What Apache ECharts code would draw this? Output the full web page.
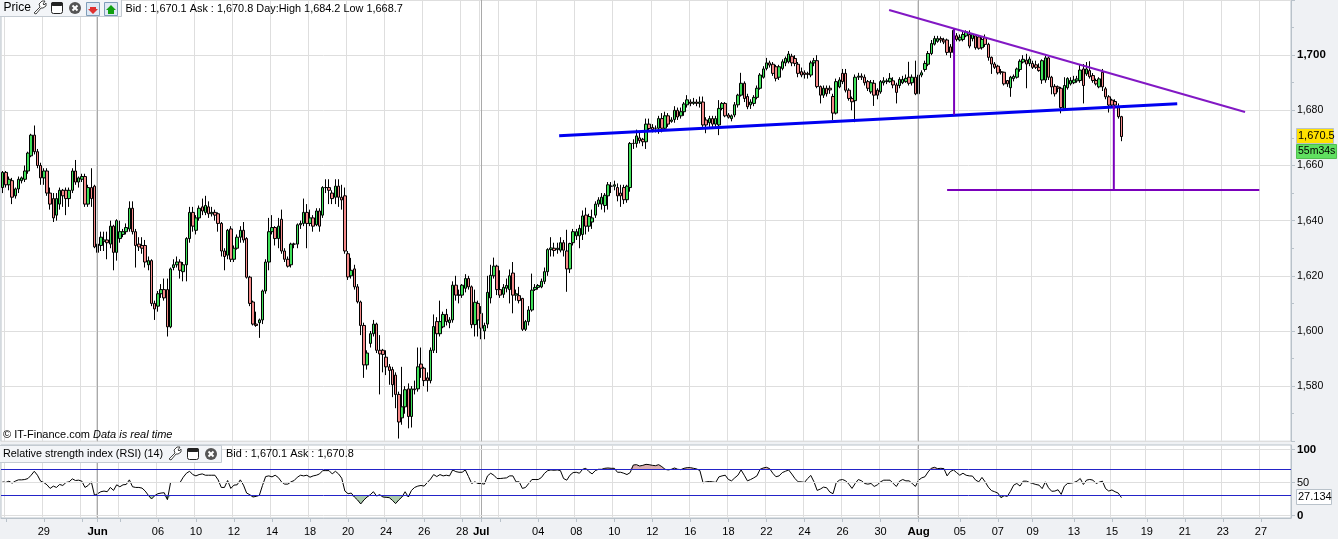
<!DOCTYPE html>
<html><head><meta charset="utf-8">
<script src="https://cdn.jsdelivr.net/npm/echarts@6/dist/echarts.min.js"></script>
<style>html,body{margin:0;padding:0;background:#eff1f4}#c{width:1338px;height:539px}</style>
</head><body><div id="c"></div>
<script>
// Candle rows: [open, close, high, low]
const candlesMay = [
[1652,1657.5,1658,1650],[1657.5,1653,1658,1652],[1653,1655,1656,1651],[1654.5,1648.5,1655.5,1646],[1649,1651.5,1652,1648],[1651.5,1655,1656,1650],[1654.5,1655.5,1656,1653.5],[1655,1658,1660,1654],[1658,1664.5,1665,1657],[1663.5,1671,1671.5,1663],
[1671,1665,1674.5,1664],[1665,1660,1666,1659],[1660,1655.5,1661,1653],[1655.5,1658,1659,1653],[1658,1650,1659,1649],[1650,1646,1652,1644],[1648,1641,1650,1639.5],[1642,1648,1650,1640],[1646,1651,1652,1644],[1651,1649,1651.5,1645],
[1651,1648,1652,1642],[1648,1651,1652,1645],[1651,1658,1659,1650],[1658,1654,1662,1653],[1654,1655.5,1656,1652],[1655,1656,1657,1654],[1656,1646,1657,1645],[1646,1652,1653,1645],[1652,1648,1659,1645],[1652.5,1630.5,1653,1630]];
const candlesJun = [
[1631.5,1628.5,1632,1628],[1631,1634,1636,1629],[1632.5,1633,1636,1629],[1633,1632,1636,1626],[1631.5,1638,1640,1630],[1638,1628.5,1638.5,1622],[1628.5,1640,1640.5,1625.5],[1633.5,1636,1640,1632],[1635,1636,1637,1634],[1636,1637.5,1639,1635],
[1637,1644.5,1647,1636],[1644.5,1636,1647,1635],[1636,1631,1637,1623],[1631.5,1630.5,1634,1629],[1631,1630,1634,1628],[1631,1625,1633,1623],[1624,1625.5,1627,1622],[1625.5,1610,1626,1609],[1610,1608,1611,1604],[1609,1613.5,1614.5,1607],
[1613.5,1615,1617,1612],[1615,1612,1619,1611],[1615,1601.5,1619,1598],[1601.5,1622.5,1623,1601],[1623,1624,1626,1622],[1624,1625,1627,1623],[1625,1622,1626,1619],[1621.5,1624,1625,1618],[1624,1633.5,1634,1618],[1633.5,1643,1645,1632],
[1643,1638,1645,1636],[1636.5,1641,1642,1635],[1641,1644.5,1645.5,1640],[1645,1643.5,1648,1642],[1643,1645.5,1649,1642],[1645,1642.5,1647,1641],[1642.5,1643,1645,1641.5],[1643,1642,1644,1640],[1642.5,1639,1643,1636],[1639,1629,1639.5,1627],
[1629,1627,1630,1622],[1627.5,1636.5,1637,1626],[1637,1626,1638,1625],[1626,1630,1631,1625],[1630,1634,1635,1629.5],[1634,1636.5,1638,1632],[1636.5,1633,1639.5,1632],[1633.5,1619.5,1634,1619],[1619.5,1610,1620,1609],[1610.5,1602.5,1611,1602],
[1602.5,1602,1607,1601.5],[1603,1604,1604.5,1597.5],[1604,1614.5,1615,1602.5],[1614.5,1625,1626,1613.5],[1625,1636,1641,1622],[1636,1637.5,1642,1635],[1637.5,1633.5,1638,1631],[1633.5,1638,1641,1630],[1640.5,1629,1644,1628],[1629,1626,1630,1625],
[1626,1623.5,1627,1623],[1624,1631.5,1632,1623],[1631.5,1631.5,1632,1630],[1631.5,1638.5,1639,1630],[1638.5,1639,1640,1637],[1639,1643,1648,1638],[1643,1639,1646,1630],[1639,1641,1644,1638],[1641,1638,1642,1636],[1638.5,1643.5,1644.5,1638],
[1643.5,1638,1644.5,1636],[1642,1652,1652.5,1641],[1652,1652,1655,1650],[1652,1651,1655,1646],[1650,1648,1651,1646],[1648.5,1652.5,1655,1646],[1652.5,1648.5,1655,1645],[1648.5,1647.5,1653,1644],[1649,1629,1652,1628],
[1628,1619.6,1629,1618.5],[1620,1622,1626.5,1619],[1622.5,1616,1624,1615],[1616,1610.6,1617,1610],[1610.5,1602,1611,1598.5],[1602,1587.7,1603,1583],[1587.7,1592,1593,1586],[1595.5,1599,1600,1594],[1599,1602.5,1604,1598],[1602.5,1593,1603,1592],
[1593,1591.7,1598.5,1577],[1593,1591.5,1593.5,1585],[1590.5,1587,1593,1584],[1587,1585.7,1588,1580.5],[1586,1580.5,1587,1576],[1584,1577,1585,1572],[1577,1567,1578,1561],[1568.5,1572.5,1587,1566],[1572.5,1578.7,1580,1570],[1579,1569,1581,1564.7],
[1569,1579,1580,1565],[1579,1578.7,1582,1577],[1579,1587,1594,1578],[1588,1586.5,1594,1583],[1586.5,1582,1587,1580],[1583,1582,1585,1578],[1582,1593,1594,1581],[1593,1601.6,1606,1592],[1603.4,1599,1605,1592],[1599,1603.4,1611,1598],
[1601.5,1606,1607,1601],[1606,1603.4,1608,1602],[1603,1604,1605,1601],[1604,1616.6,1618,1603],[1616.6,1613,1620,1611],[1613,1613,1615,1610],[1613,1616.6,1617,1612],[1615.5,1619,1620.6,1614],[1619,1616,1620,1615],[1616,1602.3,1616.5,1601],
[1602.3,1610.4,1615,1598],[1610,1604,1611,1598]];
const candlesJul = [
[1606.4,1601,1609,1597],[1600,1602,1603,1597],[1602.5,1614,1620,1601],[1612,1620.2,1624,1610],[1620,1623.5,1626.6,1619],[1623.5,1615,1624,1613],[1615,1613,1622,1612],[1613.3,1615.8,1617,1612],[1615.5,1616.5,1619,1614],[1615,1620,1622.3,1610],
[1621,1613,1625,1606.4],[1613,1613.5,1615,1611],[1612.8,1611,1616,1610],[1611.8,1600.6,1612,1600],[1600.6,1603.4,1604,1600],[1603.4,1607.6,1609,1602],[1607.6,1614.8,1620.8,1607],[1615,1615.8,1617,1614.5],[1615.8,1616.5,1617,1615],[1616,1618,1619,1615.5],
[1618,1621.5,1623,1617],[1621.5,1629.5,1630,1620],[1629.5,1630.1,1634,1627],[1630,1629.2,1632,1627],[1629.5,1630,1632,1628],[1629.3,1632,1634,1628.5],[1632,1629.3,1633,1627],[1629,1622.5,1636.7,1614.2],[1622.5,1631.7,1632,1621],[1632,1636,1637,1631],
[1634.5,1636,1637,1633],[1634.5,1637.2,1638.5,1630],[1635,1641.7,1643.7,1633],[1642,1638,1644.7,1635],[1638,1641.5,1642.5,1636],[1639.5,1641,1644,1637],[1642,1646,1647,1641],[1646,1647.5,1648.5,1645],[1646,1648.5,1650,1644],[1645.5,1649.2,1650,1643],
[1649,1653,1654,1644],[1652.5,1652.5,1654,1650],[1652.5,1653,1654.5,1651],[1652,1649,1653.5,1647],[1650,1649,1653,1645],[1652,1647.6,1653,1646],[1647.6,1652.5,1653,1646.5],[1652,1668,1668.5,1650.5],[1668,1668,1669.5,1666],[1668,1670.7,1673,1666.5],
[1670,1669,1672,1668],[1669.5,1668.6,1670,1667],[1668.6,1675,1677,1666],[1675,1673.4,1677,1672.5],[1673.8,1673,1675,1672],[1673.5,1673.5,1674.5,1672],[1673.5,1677,1678,1671.5],[1677,1673.5,1679,1672],[1673.5,1678,1679.5,1672.5],[1678,1675,1679,1674],
[1676,1676.5,1677.5,1675.5],[1676.7,1680,1681.5,1675.5],[1680,1677.6,1681,1676.5],[1678,1679.5,1681,1677],[1679.5,1682.3,1683,1678],[1682,1683.8,1685.5,1681],[1683,1682.5,1684,1681.5],[1682.5,1683,1684.5,1682],[1683,1682.5,1684,1681.5],[1682.5,1683,1685,1681],
[1683,1674.7,1685,1674],[1676.5,1674.7,1677.5,1671.7],[1675.5,1677,1678,1674],[1677,1675,1678,1674],[1675,1677,1678,1674],[1674.7,1680.7,1683.7,1671],[1680.7,1682.5,1683,1680],[1682.5,1678,1683,1677.5],[1678.3,1677.5,1679,1677],[1677,1678,1678.5,1676],
[1678.3,1682,1683,1677.5],[1682,1685.5,1686,1681],[1685.5,1689.8,1693.6,1685],[1689.8,1684.3,1690.5,1683],[1685,1681.3,1686,1680.4],[1682,1683,1684,1680.5],[1682.5,1684.7,1685.5,1681.5],[1684.7,1688,1689,1684],[1688,1692.8,1693.5,1687.5],[1692,1695,1696,1691.5],
[1695.2,1697.2,1699,1694.5],[1697.2,1696.4,1698,1695.5],[1696.7,1693.4,1697.5,1692.5],[1695.8,1691.6,1696.5,1690.5],[1692,1695.8,1696.5,1691],[1695.2,1697.6,1698.5,1694.5],[1697.2,1698.8,1699.5,1696],[1697.6,1700.4,1701.5,1697],[1699.6,1697.2,1700.5,1696],[1698.8,1697,1700,1696],
[1696.7,1693.4,1697.5,1692],[1694,1692.8,1695.5,1692],[1693.6,1693,1694.5,1691.5],[1693.4,1693,1694,1691.5],[1692.8,1697.2,1698,1692],[1697.2,1698,1699,1696],[1698,1688.6,1700,1688],[1688.6,1685.5,1689,1682.5],[1685.5,1688,1689,1684.5],[1688,1686,1689,1685],
[1688,1687.4,1689,1686],[1685,1679,1686,1676.5],[1679,1690.4,1691.5,1678.5],[1688.5,1691,1692,1688],[1693.4,1690.4,1695,1689.5],[1693.4,1687.3,1695,1686.5],[1687.3,1684.3,1688,1683.5],[1684.3,1683.1,1685,1680],[1683.5,1692,1693,1675.7],[1692,1692.4,1693.6,1691],
[1692.4,1692,1693.4,1691],[1692,1690,1693,1689],[1690.4,1688,1691,1687],[1686.7,1690,1691,1686],[1689.8,1685.5,1691,1681.6],[1687.3,1685.5,1688,1684],[1686.7,1690.4,1691,1686],[1690,1690.7,1692,1689],[1690.4,1690.7,1691.5,1689.5],[1690.4,1691.6,1693.5,1690],
[1690.7,1689.2,1692,1688],[1689.2,1686.5,1690,1682.5],[1689,1691.2,1692,1688],[1690,1691.2,1692.5,1689.5],[1690.4,1691.6,1693,1690],[1692,1689.8,1697.6,1689],[1690,1692,1693,1689],[1692,1686,1698,1685.5]];
const candlesAug = [
[1686,1692.8,1693.5,1685],[1692.8,1693.6,1694.5,1692],[1694.8,1697,1698,1694],[1696.7,1700.6,1701.5,1696],[1700.6,1704.2,1705.5,1700],[1704,1706,1707,1703.5],[1705,1706,1707,1704.5],[1706,1705.5,1706.8,1704.5],[1705.5,1704.8,1706.3,1704],[1705.5,1701,1706,1700],
[1703,1701,1704,1699],[1701,1709,1709.5,1700.5],[1707,1705.7,1708,1705],[1705.5,1706.5,1707.5,1705],[1705.7,1707.5,1708.5,1705],[1707,1708.5,1709,1706.5],[1707.5,1703.3,1709,1702.5],[1706,1707.5,1708,1705],[1707,1702.7,1707.5,1702],[1706.6,1702.5,1707,1702],
[1702.7,1705.7,1706.5,1702],[1706.3,1703.9,1707.5,1703],[1703.9,1699.2,1704.5,1698],[1699.2,1696.8,1699.5,1693.2],[1696.8,1695.6,1697.5,1695],[1696,1693.6,1696.5,1693],[1694,1693.8,1695,1693],[1693.8,1689.6,1694,1689],[1690.8,1689.6,1691,1688.5],[1688.2,1692,1692.5,1684.9],
[1691.5,1692.3,1693,1690.5],[1692,1695,1695.5,1691.5],[1694.8,1697.8,1698.5,1694],[1697.5,1698.5,1700,1697],[1698.2,1696.8,1700.5,1688],[1697,1698.6,1699.5,1696],[1697,1695.6,1698,1695],[1696.5,1695.6,1698,1695],[1695.6,1694.4,1697,1694],[1691,1698,1698.5,1689.6],
[1691,1699,1700,1690],[1699,1692,1699.5,1691],[1692,1688.5,1692.5,1685.8],[1688.7,1686,1689.5,1685],[1688.5,1688,1689,1686.5],[1688,1681,1688.5,1678.9],[1680.7,1689,1692,1680],[1688.2,1691.5,1692,1687.5],[1689.6,1690.8,1692,1689],[1690,1691,1692.5,1689.5],
[1690.7,1691.4,1692.5,1690],[1690.8,1694.6,1696.5,1690],[1695,1689,1696.8,1682.5],[1693.2,1695,1697.5,1692.5],[1694.4,1692.2,1697.8,1691.5],[1692.6,1690.8,1693.5,1690],[1690.8,1689.6,1691.5,1689],[1688.5,1691.4,1692,1688],[1693.8,1688.5,1695,1687],[1687.8,1684.9,1688.5,1684],
[1684.9,1681.9,1685.5,1679.2],[1683.7,1681.9,1684.2,1681],[1683.2,1681.9,1684,1680.5],[1681.3,1677.7,1682.5,1677],[1677.7,1670.5,1678,1668.8]];
const rsiValues = [
51,50,52,49,52,54,54,54.5,56,61,67,61,52,50,46.5,41,44.5,42.5,47,45.5,50,51,55.5,53,53.5,52,42.5,45.5,51,30.5,
33,36,37,36,42.5,38,46.5,43.5,46.5,47,54,43.5,42.5,42.5,41.5,37,30.5,25,30,33,34,34.5,24,50,50,50,50,58,64,67,
62,60,62,63,61,61,61,61,54,42.5,42.5,53,41,46,46.5,54,46,34,31.5,28,29,30.5,45.5,59,60,58.5,61,57.5,51,47.5,
47.5,51,53,58,61,60,61,58,60,61,63,68,68,68,63,67,63,56.5,37,33,34,28,23.5,17.5,23.5,28,31.5,36,29.5,31.5,
28,27.5,27,23,18,23.5,28,36,28,38,42.5,44.5,45.5,44.5,50,55,62,59,62,60,61,60,69,66.5,65.5,65.5,69,59,
48.5,51,48.5,48.5,47.5,60,64,61,56,56,56.5,57,60,60,51,51,41,42.5,48.5,54.5,54.5,54.5,57.5,64,68,69,68.5,69,68,56,
53.5,61,65,65.5,64,70,71.5,66.5,63,68,70,70,71.5,72,71.5,71.5,65.5,65.5,64,62,65,76.5,77,75,76,77.5,77,76,75.5,77,
74,70,69,70,72,70,69.5,71.5,72.5,72.5,71.5,70.5,68,49.5,51,51.5,51,50,58.5,60,61,54.5,52.5,57,61,69,61,52.5,54.5,57,
60,70,72,73,71,64,58.7,60,65,67,69,62.8,56,51,51,50,56,60.7,51,38,40,43,42,35.5,33,49.5,53.5,54.5,52.5,47.5,
41,48.5,54.5,52.5,48.5,47.5,48.5,44,46.5,51,53.5,53.5,53.5,48.5,44,52,54.5,52.5,52.5,48.5,44,53.5,57,58.7,66,71.5,73,71,71.5,71,
60,66.5,69,65,61,64,61,60,59.7,53.6,51,57.7,51,43,37.7,36,34,27,30,29,36.7,46,48.5,44.6,52,52,50,48.5,47,46,
40.7,51,42,36.7,37,39,32,44.4,48.5,49,50,52,56,47,53.6,54.6,53.6,48.5,50.5,52,40.7,37,38.7,36,34,27.1];
// Axis text
const gridSlots = [1,13,25,30,37,49,61,73,85,97,109,121,133,145,151,157,169,181,193,205,217,229,241,253,265,277,289,302,314,325,338,350,361,373,385,397];
const gridLabels = ['','29','','Jun','','06','10','12','14','18','20','24','26','28','Jul','','04','08','10','12','16','18','22','24','26','30','Aug','05','07','09','13','15','19','21','23','27'];
const monthLabels = ['Jun','Jul','Aug'];
const priceTicks = [1580,1600,1620,1640,1660,1680,1700];
const rsiTicks = [0,50,100];
const rsiBands = [30,70];
// Drawn annotations: [slot, price]
const blueTrend = [[175.6,1670.8],[370.6,1682.4]];
const purpleTrend = [[279.7,1716.4],[392,1679.4]];
const purpleDropA = [[300.2,1709.5],[300.2,1678.4]];
const purpleDropB = [[350.6,1681.6],[350.6,1651.1]];
const purpleTarget = [[298,1651.1],[396.5,1651.1]];
const SLOT_COUNT = 407;

const rows = candlesMay.concat(candlesJun, candlesJul, candlesAug);
const slots = Array.from({length:SLOT_COUNT},(_,i)=>'s'+i);
const candleData = rows.map(r=>[r[0],r[1],r[3],r[2]]);
const labelBySlot = {}; gridSlots.forEach((s,i)=>labelBySlot[s]=gridLabels[i]);
const isGrid = i => labelBySlot[i]!==undefined;
const monthSlots = gridSlots.filter(s=>monthLabels.includes(labelBySlot[s]));
const rsiPairs = rsiValues.map((v,i)=>[i,v]);
const rsiHigh = rsiValues.map((v,i)=>[i,Math.max(v,70)]);
const rsiLow = rsiValues.map((v,i)=>[i,Math.min(v,30)]);
const FONT = '"Liberation Sans",Arial,sans-serif';
const GRID='#dedede', EDGE='#b9c2ca', DARK='#a9a9a9';

function fmt(v){return String(v).replace(/(\d)(\d{3})$/,'$1,$2');}
function txt(x,y,s,o){return {type:'text',x:x,y:y,silent:true,z:50,style:Object.assign({text:s,fill:'#000',font:'11px '+FONT,textVerticalAlign:'middle'},o||{})};}
function rct(x,y,w,h,fill,stroke,r){return {type:'rect',silent:true,z:49,shape:{x:x+.5,y:y+.5,width:w,height:h,r:r||0},style:{fill:fill,stroke:stroke||null,lineWidth:1}};}
function wrench(x,y){return {type:'polyline',silent:true,z:50,shape:{points:[[x+1,y+12],[x+7,y+6],[x+6,y+3],[x+9,y],[x+12,y],[x+10,y+3],[x+11,y+4],[x+13,y+2],[x+13,y+5],[x+10,y+7],[x+8,y+7],[x+3,y+13],[x+1,y+12]]},style:{stroke:'#444',fill:'#fff',lineWidth:1}};}
function win(x,y){return [rct(x,y,11,11,'#fff','#222',2),rct(x,y,11,3,'#222','#222',1)];}
function closeBtn(x,y){return [{type:'circle',silent:true,z:49,shape:{cx:x+6,cy:y+6,r:6},style:{fill:'#555'}},
 {type:'polyline',silent:true,z:50,shape:{points:[[x+3.5,y+3.5],[x+8.5,y+8.5]]},style:{stroke:'#fff',lineWidth:2}},
 {type:'polyline',silent:true,z:50,shape:{points:[[x+8.5,y+3.5],[x+3.5,y+8.5]]},style:{stroke:'#fff',lineWidth:2}}];}
function arrowDoc(x,y,c,down){
 const pts = down?[[x+4,y+5],[x+10,y+5],[x+10,y+7],[x+12,y+7],[x+7,y+12],[x+2,y+7],[x+4,y+7]]
                 :[[x+7,y+3],[x+12,y+8],[x+10,y+8],[x+10,y+12],[x+4,y+12],[x+4,y+8],[x+2,y+8]];
 return [rct(x,y,13,13,'#dfe9f5','#7f9db9'),{type:'polygon',silent:true,z:50,shape:{points:pts},style:{fill:c}}];
}
const graphics = [
 rct(-1,-1,122,17,'#f3f5f8','#c3cad1'),
 txt(3.5,8,'Price',{font:'12px '+FONT}),
 wrench(33,1),...win(51,2),...closeBtn(69,2),...arrowDoc(86,2,'#e03030',true),...arrowDoc(104,2,'#10a010',false),
 txt(125.5,8.5,'Bid : 1,670.1 Ask : 1,670.8 Day:High 1,684.2 Low 1,668.7',{font:'10.9px '+FONT}),
 txt(3,435,'© IT-Finance.com',{font:'11px '+FONT}),
 txt(93,435,'Data is real time',{font:'italic 11px '+FONT}),
 rct(-1,445,222,17,'#f3f5f8','#c3cad1'),
 txt(3,454,'Relative strength index (RSI) (14)',{font:'10.8px '+FONT}),
 wrench(168,447),...win(187,448),...closeBtn(205,448),
 txt(226,454,'Bid : 1,670.1 Ask : 1,670.8',{font:'10.9px '+FONT}),
 rct(1296,128,37,15,'#ffe000','#b9c2ca'),
 txt(1298,136,'1,670.5',{font:'11px '+FONT}),
 rct(1296,144,40,14,'#60e060','#50c050'),
 txt(1298,151.5,'55m34s',{font:'10.5px '+FONT}),
 rct(1296,489,35,15,'#fff','#b9c2ca'),
 txt(1298,497,'27.134',{font:'11px '+FONT})
];
function overlay(name,data,color,width){return {name:name,type:'line',xAxisIndex:2,yAxisIndex:0,data:data,showSymbol:false,silent:true,clip:false,z:5,lineStyle:{color:color,width:width},animation:false};}
function xCat(gridIndex,showLabels){return {type:'category',gridIndex:gridIndex,data:slots,boundaryGap:true,
 axisLine:{show:showLabels,onZero:false,lineStyle:{color:EDGE}},
 axisTick:{show:showLabels,alignWithLabel:true,length:4,interval:i=>isGrid(i),lineStyle:{color:EDGE}},
 splitLine:{show:true,interval:i=>isGrid(i),lineStyle:{color:GRID,width:1}},
 axisLabel:{show:showLabels,interval:i=>isGrid(i),margin:8,fontFamily:FONT,fontSize:11,color:'#000',
  formatter:v=>{const l=labelBySlot[+v.slice(1)]||'';return monthLabels.includes(l)?'{b|'+l+'}':l;},
  rich:{b:{fontWeight:'bold',fontFamily:FONT,fontSize:11.5,color:'#000'}}}};}
const option = {
 animation:false,backgroundColor:'#eff1f4',
 grid:[{left:1,top:-1,width:1290,height:442.3,show:true,backgroundColor:'#fff',borderColor:EDGE,borderWidth:1},
       {left:1,top:445,width:1290,height:73,show:true,backgroundColor:'#fff',borderColor:EDGE,borderWidth:1}],
 xAxis:[xCat(0,false),xCat(1,true),{type:'value',gridIndex:0,min:-0.5,max:SLOT_COUNT-0.5,show:false}],
 yAxis:[{type:'value',gridIndex:0,min:1560,max:1720,interval:20,position:'right',
   axisLine:{show:true,onZero:false,lineStyle:{color:EDGE}},axisTick:{show:true,length:4,lineStyle:{color:EDGE}},
   minorTick:{show:true,splitNumber:2,length:3,lineStyle:{color:EDGE}},
   splitLine:{show:true,lineStyle:{color:GRID,width:1}},showMinLabel:false,showMaxLabel:false,
   axisLabel:{margin:6,fontFamily:FONT,fontSize:10.5,color:'#000',
    customValues:priceTicks,
    formatter:v=>v===1700?'{b|'+fmt(v)+'}':fmt(v),rich:{b:{fontWeight:'bold',fontSize:11.5,fontFamily:FONT,color:'#000'}}}},
  {type:'value',gridIndex:1,min:-3.8,max:106.8,position:'right',
   axisLine:{show:true,onZero:false,lineStyle:{color:EDGE}},axisTick:{show:true,length:4,customValues:rsiTicks,lineStyle:{color:EDGE}},
   splitLine:{show:false},
   axisLabel:{margin:6,fontFamily:FONT,fontSize:11,color:'#000',customValues:rsiTicks,
    formatter:v=>v===50?String(v):'{b|'+v+'}',rich:{b:{fontWeight:'bold',fontSize:11.5,fontFamily:FONT,color:'#000'}}}}],
 series:[
  {type:'line',xAxisIndex:0,yAxisIndex:0,data:[],silent:true,z:1,
   markLine:{silent:true,symbol:'none',animation:false,label:{show:false},lineStyle:{color:DARK,width:1,type:'solid'},
    data:monthSlots.map(s=>({xAxis:'s'+s}))}},
  {type:'line',xAxisIndex:1,yAxisIndex:1,data:[],silent:true,z:1,
   markLine:{silent:true,symbol:'none',animation:false,label:{show:false},lineStyle:{color:DARK,width:1,type:'solid'},
    data:monthSlots.map(s=>({xAxis:'s'+s})).concat(rsiTicks.map(v=>({yAxis:v,lineStyle:{color:GRID}})),rsiBands.map(v=>({yAxis:v,lineStyle:{color:'#2323c8'}})))}},
  {name:'Price',type:'candlestick',xAxisIndex:0,yAxisIndex:0,data:candleData,barWidth:3,z:3,silent:true,
   itemStyle:{color:'#3fe05a',color0:'#f58a8a',borderColor:'#000',borderColor0:'#000',borderColorDoji:'#000',borderWidth:1}},
  overlay('Support',blueTrend,'#0000f0',3),
  overlay('Resistance',purpleTrend,'#8218c4',2),
  overlay('Height A',purpleDropA,'#7a00bb',2),
  overlay('Height B',purpleDropB,'#7a00bb',2),
  overlay('Target',purpleTarget,'#7a00bb',2),
  {name:'RSI over',type:'line',xAxisIndex:1,yAxisIndex:1,data:rsiHigh,showSymbol:false,silent:true,z:2,lineStyle:{width:0},areaStyle:{origin:70,color:'#d8aeb0',opacity:1}},
  {name:'RSI under',type:'line',xAxisIndex:1,yAxisIndex:1,data:rsiLow,showSymbol:false,silent:true,z:2,lineStyle:{width:0},areaStyle:{origin:30,color:'#a9c9ab',opacity:1}},
  {name:'RSI',type:'line',xAxisIndex:1,yAxisIndex:1,data:rsiPairs,showSymbol:false,silent:true,z:4,lineStyle:{color:'#000',width:1}}
 ],
 graphic:{elements:graphics}
};
const chart = echarts.init(document.getElementById('c'),null,{renderer:'canvas'});
chart.setOption(option);
</script></body></html>
